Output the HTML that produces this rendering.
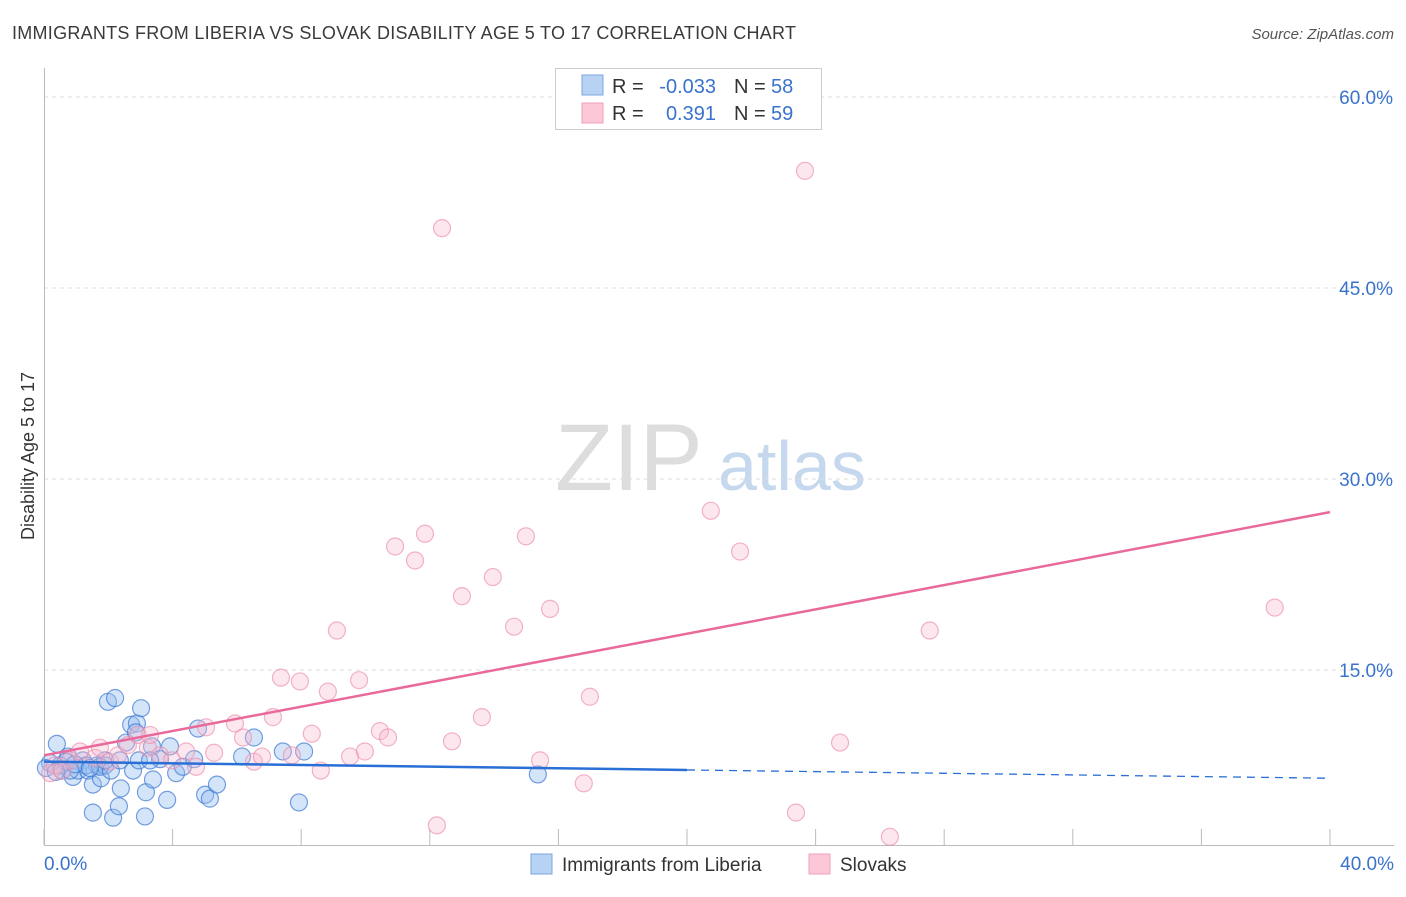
<!DOCTYPE html>
<html><head><meta charset="utf-8"><style>
body{margin:0;background:#fff;font-family:"Liberation Sans",sans-serif;}
svg text{font-family:"Liberation Sans",sans-serif;}
</style></head><body>
<svg width="1406" height="892" xmlns="http://www.w3.org/2000/svg" id="chart">
<text x="12" y="39" font-size="18" fill="#3a3a3a" textLength="784">IMMIGRANTS FROM LIBERIA VS SLOVAK DISABILITY AGE 5 TO 17 CORRELATION CHART</text>
<text x="1394" y="39" font-size="15" fill="#555" font-style="italic" text-anchor="end">Source: ZipAtlas.com</text>
<text x="34" y="456" font-size="18" fill="#333" text-anchor="middle" transform="rotate(-90 34 456)">Disability Age 5 to 17</text>
<text x="555" y="490" font-size="95" fill="#ddd" font-family="Liberation Serif">ZIP</text>
<text x="718" y="490" font-size="70" fill="#c5d8ee">atlas</text>
<g id="grid"></g>
<g id="axes"></g>
<g id="pts"></g>
<g id="trend"></g>
<g>
<rect x="555.5" y="68.5" width="266" height="61" fill="#fff" stroke="#ccc"/>
<rect x="582" y="75" width="21" height="20" fill="#b8d2f3" stroke="#7aa6e0"/>
<rect x="582" y="103" width="21" height="20" fill="#fcc8d8" stroke="#f0a0b8"/>
<text x="612" y="93" font-size="20" fill="#333">R = </text><text x="716" y="93" font-size="20" fill="#3a73cc" text-anchor="end">-0.033</text>
<text x="734" y="93" font-size="20" fill="#333">N = </text><text x="771" y="93" font-size="20" fill="#3a73cc">58</text>
<text x="612" y="120" font-size="20" fill="#333">R = </text><text x="716" y="120" font-size="20" fill="#3a73cc" text-anchor="end">0.391</text>
<text x="734" y="120" font-size="20" fill="#333">N = </text><text x="771" y="120" font-size="20" fill="#3a73cc">59</text>
</g>
<g>
<rect x="531" y="854" width="21" height="20" fill="#b8d2f3" stroke="#7aa6e0"/>
<text x="562" y="871" font-size="19" fill="#333">Immigrants from Liberia</text>
<rect x="809" y="854" width="21" height="20" fill="#fcc8d8" stroke="#f0a0b8"/>
<text x="840" y="871" font-size="19" fill="#333">Slovaks</text>
</g>
</svg>
<script>
const blueX=[0.19,0.40,0.56,0.75,0.90,1.06,1.21,1.37,1.52,1.65,1.77,1.90,1.99,2.21,2.15,2.33,2.39,1.52,2.55,2.71,2.89,2.86,3.02,3.17,3.14,3.39,3.36,3.61,3.83,3.92,4.11,4.32,4.67,4.79,5.01,5.16,5.38,6.16,6.53,7.43,7.93,8.09,15.36,0.50,0.68,0.81,0.06,1.31,1.74,2.08,0.37,0.96,1.43,1.90,2.36,2.77,2.95,3.30];
const blueY=[7.7,9.2,7.1,8.2,6.6,7.1,7.9,7.1,6.0,7.5,6.5,7.5,12.5,12.8,3.4,4.3,5.7,3.8,9.3,10.7,10.8,10.1,12.0,5.4,3.5,6.4,9.0,8.0,4.8,9.0,6.9,7.4,8.0,10.4,5.2,4.9,6.0,8.2,9.7,8.6,4.6,8.6,6.8,7.5,7.8,7.1,7.3,7.5,7.4,7.1,7.0,7.6,7.3,7.9,7.9,7.1,7.9,7.9];
const pinkX=[0.19,0.34,0.81,1.12,1.59,1.74,2.05,2.30,2.61,2.92,3.23,3.61,3.98,4.42,4.73,5.04,5.29,5.94,6.19,6.53,6.78,7.12,7.37,7.71,7.96,8.33,8.61,8.83,9.11,9.52,9.80,9.98,10.45,10.70,10.92,11.54,11.85,12.22,12.38,12.69,13.00,13.62,13.96,14.62,14.99,15.43,15.74,16.79,16.98,20.74,21.65,23.39,23.67,24.76,26.31,27.55,38.28,0.56,3.30];
const pinkY=[6.9,7.5,7.9,8.6,8.1,8.9,7.8,8.3,9.1,9.9,8.9,8.3,7.9,8.6,7.4,10.5,8.5,10.8,9.7,7.8,8.2,11.3,14.4,8.3,14.1,10.0,7.1,13.3,18.1,8.2,14.2,8.6,10.2,9.7,24.7,23.6,25.7,2.8,49.7,9.4,20.8,11.3,22.3,18.4,25.5,7.9,19.8,6.1,12.9,27.5,24.3,3.8,54.2,9.3,1.9,18.1,19.9,7.1,9.9];
const blueTrend=[7.8,6.5];
const pinkTrend=[8.3,27.4];
const yTicks=[15,30,45,60];
const xTicks=[0,4,8,12,16,20,24,28,32,36,40];
const NS="http://www.w3.org/2000/svg";
const sx=v=>44+v*(1286/40);
const sy=v=>861-v*(191/15);
function mk(tag,attrs,parent){const e=document.createElementNS(NS,tag);for(const k in attrs)e.setAttribute(k,attrs[k]);document.getElementById(parent).appendChild(e);return e;}
yTicks.forEach(t=>{
  const l=mk('line',{x1:44,x2:1394,y1:sy(t),y2:sy(t),stroke:'#ddd','stroke-dasharray':'4,4'},'grid');
  
  
  const tx=mk('text',{x:1393,y:sy(t)+7,'font-size':19,fill:'#3a73cc','text-anchor':'end'},'grid');
  tx.textContent=t.toFixed(1)+'%';
  
  
});
const ax=mk('line',{x1:44.5,x2:44.5,y1:68,y2:845,stroke:'#bbb'},'axes');


const bx=mk('line',{x1:44,x2:1394,y1:845.5,y2:845.5,stroke:'#bbb'},'axes');


xTicks.forEach(t=>{
  const l=mk('line',{x1:sx(t),x2:sx(t),y1:829,y2:845,stroke:'#bbb'},'axes');
  
  
});
[[0,'start',44],[40,'end',1394]].forEach(([v,a,x])=>{
  const tx=mk('text',{x:x,y:870,'font-size':19,fill:'#3a73cc','text-anchor':a},'axes');
  tx.textContent=v.toFixed(1)+'%';
  
  
});
blueX.forEach((x,i)=>{
  const c=mk('circle',{cx:sx(x),cy:sy(blueY[i]),r:8.5,fill:'rgba(150,190,240,0.4)',stroke:'rgba(60,120,210,0.7)','stroke-width':1.2},'pts');
  
  
});
pinkX.forEach((x,i)=>{
  const c=mk('circle',{cx:sx(x),cy:sy(pinkY[i]),r:8.5,fill:'rgba(250,185,205,0.35)',stroke:'rgba(235,140,170,0.65)','stroke-width':1.2},'pts');
  
  
});
const bAt=x=>blueTrend[0]+(blueTrend[1]-blueTrend[0])*x/40;
const t1=mk('line',{x1:sx(0),y1:sy(bAt(0)),x2:sx(20),y2:sy(bAt(20)),stroke:'#2a6fd6','stroke-width':2.5},'trend');


const t2=mk('line',{x1:sx(20),y1:sy(bAt(20)),x2:sx(40),y2:sy(bAt(40)),stroke:'#2a6fd6','stroke-width':1.3,'stroke-dasharray':'8,6'},'trend');


const t3=mk('line',{x1:sx(0),y1:sy(pinkTrend[0]),x2:sx(40),y2:sy(pinkTrend[1]),stroke:'#e8699a','stroke-width':2.5},'trend');


</script>
</body></html>
